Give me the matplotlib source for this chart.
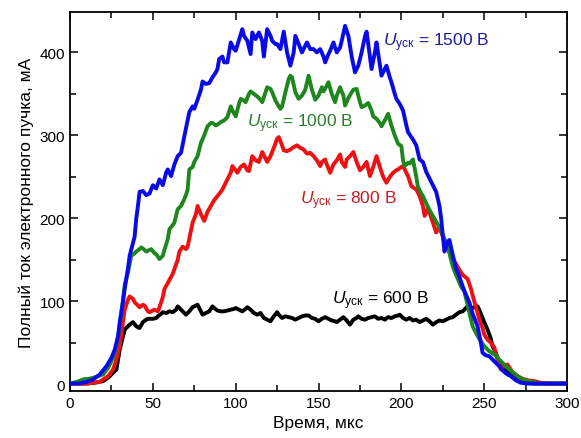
import matplotlib
matplotlib.use('Agg')
import matplotlib.pyplot as plt
from matplotlib.ticker import MultipleLocator

plt.rcParams['font.family'] = ['Liberation Sans', 'DejaVu Sans']
plt.rcParams['mathtext.fontset'] = 'custom'
plt.rcParams['mathtext.rm'] = 'Liberation Sans'
plt.rcParams['mathtext.it'] = 'Liberation Sans:italic'

# U = 1500 V
t_1500 = [0, 5, 10, 14, 18, 22, 25, 27, 29, 30, 32, 33, 35, 36, 38, 39, 40, 41, 42, 44,
          46, 48, 50, 52, 54, 56, 58, 59, 61, 63, 65, 67, 69, 71, 72, 74, 75, 77, 79, 80,
          82, 84, 86, 88, 89, 90, 92, 93, 95, 97, 99, 100, 102, 104, 105, 107, 109, 110, 112, 114,
          116, 117, 119, 121, 122, 124, 125, 127, 129, 131, 133, 135, 136, 138, 140, 142, 143, 145, 147, 149,
          151, 153, 154, 156, 157, 159, 161, 163, 164, 166, 168, 170, 172, 174, 176, 178, 179, 181, 182, 184,
          185, 187, 188, 190, 191, 193, 194, 196, 197, 199, 201, 203, 204, 206, 207, 209, 211, 213, 215, 217,
          219, 221, 223, 224, 226, 228, 229, 231, 233, 235, 237, 239, 241, 243, 245, 246, 248, 249, 251, 253,
          255, 257, 259, 262, 264, 266, 269, 272, 276, 280, 290, 300]
i_1500 = [1, 1, 3, 6, 12, 22, 32, 42, 58, 75, 100, 115, 140, 155, 170, 178, 200, 215, 232, 233,
          228, 230, 240, 236, 247, 240, 255, 259, 251, 265, 275, 279, 299, 318, 328, 335, 332, 343, 355, 365,
          362, 363, 370, 376, 380, 392, 395, 388, 388, 412, 404, 402, 415, 428, 420, 414, 398, 424, 416, 424,
          414, 395, 428, 420, 414, 410, 410, 404, 425, 400, 384, 400, 420, 410, 400, 408, 412, 404, 404, 400,
          404, 395, 388, 398, 402, 412, 400, 406, 414, 432, 420, 395, 376, 384, 400, 419, 425, 395, 380, 400,
          412, 385, 372, 380, 384, 370, 364, 350, 344, 338, 330, 312, 304, 298, 295, 288, 271, 268, 256, 248,
          240, 232, 215, 200, 160, 172, 174, 156, 140, 130, 118, 108, 99, 85, 75, 70, 50, 38, 35, 34,
          30, 26, 22, 15, 12, 10, 5, 2, 1, 1, 1, 1]

# U = 1000 V
t_1000 = [0, 4, 8, 12, 14, 17, 20, 23, 26, 28, 30, 32, 33, 35, 37, 39, 40, 42, 43, 45,
          46, 48, 49, 51, 52, 54, 56, 57, 59, 60, 62, 63, 65, 67, 68, 70, 71, 72, 74, 75,
          77, 79, 81, 83, 85, 86, 88, 89, 91, 93, 95, 97, 98, 100, 102, 103, 105, 106, 108, 109,
          111, 113, 115, 116, 118, 119, 121, 122, 124, 126, 127, 128, 130, 132, 133, 134, 136, 138, 140, 142,
          144, 146, 148, 150, 152, 153, 155, 156, 158, 160, 161, 163, 165, 166, 168, 170, 171, 173, 175, 176,
          178, 180, 182, 183, 185, 187, 188, 190, 192, 194, 196, 198, 200, 201, 202, 204, 205, 207, 209, 210,
          212, 213, 215, 217, 219, 221, 223, 225, 227, 229, 231, 233, 236, 238, 240, 242, 243, 245, 247, 250,
          253, 257, 259, 261, 264, 267, 270, 273, 276, 279, 283, 290, 300]
i_1000 = [1, 3, 6, 7, 8, 10, 12, 20, 32, 45, 70, 102, 120, 135, 155, 158, 160, 163, 165, 162,
          160, 162, 163, 158, 157, 151, 155, 162, 175, 187, 192, 195, 211, 215, 219, 228, 235, 259, 262, 268,
          275, 291, 300, 311, 315, 315, 312, 313, 316, 318, 322, 335, 330, 323, 338, 344, 342, 340, 350, 353,
          350, 347, 343, 340, 352, 358, 356, 352, 342, 335, 332, 335, 352, 368, 372, 370, 352, 344, 348, 355,
          372, 355, 343, 348, 358, 353, 360, 364, 350, 340, 348, 358, 348, 336, 345, 352, 355, 356, 340, 334,
          336, 339, 330, 323, 320, 315, 311, 318, 326, 312, 300, 290, 287, 270, 263, 267, 266, 271, 250, 238,
          230, 227, 218, 210, 203, 196, 189, 180, 171, 158, 142, 132, 118, 112, 95, 78, 70, 62, 55, 46,
          40, 35, 30, 26, 20, 15, 10, 6, 4, 3, 1, 1, 1]

# U = 800 V
t_800 = [0, 5, 10, 14, 18, 20, 23, 26, 28, 30, 32, 33, 35, 36, 38, 39, 41, 42, 44, 45,
         47, 48, 50, 51, 53, 54, 56, 57, 59, 60, 62, 63, 65, 66, 68, 70, 71, 73, 74, 76,
         77, 79, 81, 83, 85, 87, 89, 91, 92, 94, 95, 97, 98, 100, 101, 103, 105, 107, 108, 110,
         112, 114, 116, 118, 119, 121, 123, 125, 126, 128, 129, 131, 133, 135, 137, 139, 141, 143, 145, 147,
         149, 151, 152, 154, 155, 157, 159, 161, 163, 164, 166, 167, 169, 171, 173, 175, 177, 179, 181, 183,
         185, 187, 189, 191, 193, 195, 197, 198, 200, 201, 203, 204, 206, 208, 209, 211, 213, 214, 216, 217,
         219, 221, 223, 225, 227, 229, 231, 233, 235, 237, 240, 242, 244, 246, 247, 249, 250, 252, 254, 256,
         258, 260, 262, 264, 267, 270, 273, 276, 280, 284, 290, 300]
i_800 = [1, 1, 1, 2, 3, 6, 10, 18, 30, 46, 75, 90, 102, 106, 103, 99, 95, 93, 96, 95,
         88, 87, 89, 90, 88, 93, 105, 115, 122, 126, 133, 139, 150, 160, 166, 163, 166, 185, 195, 205,
         215, 205, 197, 208, 215, 222, 227, 232, 235, 243, 247, 255, 263, 258, 255, 262, 265, 258, 257, 275,
         270, 268, 280, 272, 268, 275, 285, 296, 298, 288, 282, 281, 283, 286, 288, 285, 283, 278, 279, 275,
         270, 263, 268, 271, 265, 255, 265, 270, 277, 268, 262, 271, 275, 280, 268, 258, 262, 268, 251, 262,
         275, 262, 250, 243, 250, 255, 258, 259, 262, 263, 255, 251, 239, 236, 235, 227, 215, 203, 212, 207,
         195, 183, 190, 178, 165, 160, 151, 145, 138, 132, 127, 115, 100, 86, 78, 68, 60, 54, 50, 45,
         30, 18, 22, 24, 15, 10, 7, 5, 4, 2, 1, 1]

# U = 600 V
t_600 = [0, 5, 10, 15, 20, 23, 26, 28, 30, 32, 33, 35, 36, 38, 40, 42, 44, 46, 47, 50,
         52, 53, 55, 56, 58, 60, 62, 64, 65, 67, 68, 70, 72, 74, 76, 77, 79, 80, 82, 84,
         86, 87, 89, 91, 93, 95, 97, 99, 100, 102, 104, 106, 107, 109, 111, 113, 115, 117, 119, 121,
         123, 125, 126, 128, 130, 132, 134, 136, 138, 140, 142, 144, 146, 148, 150, 152, 154, 156, 158, 160,
         161, 163, 165, 167, 169, 171, 173, 174, 176, 178, 180, 182, 184, 186, 188, 190, 192, 194, 196, 198,
         199, 201, 203, 205, 207, 209, 211, 213, 215, 217, 219, 221, 223, 225, 227, 229, 231, 233, 235, 237,
         239, 240, 242, 243, 245, 246, 247, 248, 250, 252, 254, 255, 257, 259, 261, 263, 265, 267, 269, 271,
         274, 280, 300]
i_600 = [1, 1, 1, 2, 4, 8, 14, 18, 42, 58, 66, 70, 72, 75, 70, 68, 75, 78, 79, 79,
         80, 82, 85, 87, 86, 88, 87, 90, 94, 90, 88, 84, 88, 93, 95, 96, 88, 84, 86, 88,
         94, 92, 89, 88, 88, 89, 90, 91, 92, 90, 88, 91, 93, 90, 86, 84, 86, 80, 78, 76,
         82, 87, 84, 80, 82, 81, 80, 78, 80, 82, 83, 83, 80, 79, 76, 79, 81, 79, 77, 76,
         75, 78, 81, 77, 72, 78, 80, 82, 79, 78, 80, 81, 82, 79, 80, 78, 81, 80, 82, 83,
         84, 80, 78, 80, 77, 78, 75, 77, 79, 76, 72, 75, 77, 76, 78, 80, 81, 84, 87, 88,
         92, 94, 90, 92, 94, 94, 90, 85, 75, 66, 55, 46, 38, 26, 22, 18, 13, 10, 6, 4,
         2, 1, 1]

fig = plt.figure(figsize=(5.81, 4.39), dpi=100)
ax = fig.add_axes([0.1205, 0.107, 0.8555, 0.864])

lw = 2.8
ax.plot(t_600, i_600, color='black', lw=lw, zorder=2)
ax.plot(t_800, i_800, color='#ee1111', lw=lw, zorder=3)
ax.plot(t_1000, i_1000, color='#1d861d', lw=lw, zorder=4)
ax.plot(t_1500, i_1500, color='#0a0ae8', lw=lw, zorder=5)

ax.set_xlim(0, 300)
ax.set_ylim(-8, 449)
ax.xaxis.set_major_locator(MultipleLocator(50))
ax.xaxis.set_minor_locator(MultipleLocator(25))
ax.yaxis.set_major_locator(MultipleLocator(100))
ax.yaxis.set_minor_locator(MultipleLocator(50))
ax.tick_params(which='both', direction='in', top=True, right=True, labelsize=11, width=1.1)
ax.tick_params(which='major', length=6)
ax.tick_params(which='minor', length=4)
for s in ax.spines.values():
    s.set_linewidth(1.3)

ax.set_xlabel('Время, мкс', fontsize=12.5, labelpad=4)
ax.set_ylabel('Полный ток электронного пучка, мА', fontsize=12.5, labelpad=4)

# curve labels
ax.text(189, 413, r'$U_{\mathrm{уск}}$ = 1500 В', color='#1c1c9e', fontsize=12.5, va='center')
ax.text(107, 315, r'$U_{\mathrm{уск}}$ = 1000 В', color='#2a7f2a', fontsize=12.5, va='center')
ax.text(139, 222, r'$U_{\mathrm{уск}}$ = 800 В', color='#c42020', fontsize=12.5, va='center')
ax.text(158, 102, r'$U_{\mathrm{уск}}$ = 600 В', color='black', fontsize=12.5, va='center')

plt.savefig('out.png', dpi=100)
